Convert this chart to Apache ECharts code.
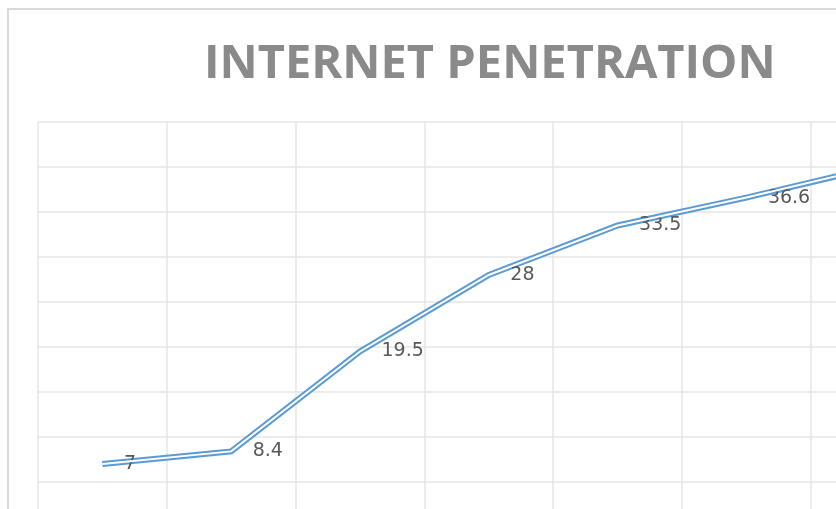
<!DOCTYPE html>
<html>
<head>
<meta charset="utf-8">
<script src="https://cdn.jsdelivr.net/npm/echarts@6/dist/echarts.min.js"></script>
<style>
  html, body { margin: 0; padding: 0; background: #fff; }
  #main { width: 836px; height: 509px; }
</style>
</head>
<body>
<div id="main"></div>
<script>
// categories are cut off below the visible area in the reference
var years = ['2010', '2011', '2012', '2013', '2014', '2015', '2016'];
var penetration = [7, 8.4, 19.5, 28, 33.5, 36.6, 40];
var yTicks = { min: 0, max: 45, step: 5 };

var myChart = echarts.init(document.getElementById('main'));

var option = {
    animation: false,
    backgroundColor: '#ffffff',
    title: {
        text: 'INTERNET PENETRATION',
        left: 199,
        top: 36,
        textStyle: {
            fontFamily: 'Open Sans',
            fontWeight: 'bold',
            fontSize: 47,
            color: '#8a8a8a'
        }
    },
    // chart area frame, only its top-left corner is visible
    graphic: [{
        type: 'rect',
        shape: { x: 8, y: 9, width: 1000, height: 700 },
        style: { fill: 'none', stroke: '#d9d9d9', lineWidth: 2 },
        silent: true
    }],
    // plot runs past the right and bottom edges of the picture
    grid: {
        left: 38,
        top: 122,
        width: 901.6,
        height: 405,
        containLabel: false,
        outerBoundsMode: 'none'
    },
    xAxis: {
        type: 'category',
        data: years,
        boundaryGap: true,
        axisLine: { show: true, lineStyle: { color: '#d9d9d9' } },
        axisTick: { show: false },
        axisLabel: { color: '#595959' },
        splitLine: { show: true, lineStyle: { color: '#e6e6e6', width: 1.5 } }
    },
    yAxis: {
        type: 'value',
        min: yTicks.min,
        max: yTicks.max,
        interval: yTicks.step,
        axisLine: { show: false },
        axisTick: { show: false },
        axisLabel: { show: false },
        splitLine: { lineStyle: { color: '#e6e6e6', width: 1.5 } }
    },
    series: [
        {
            // outer strokes of the double line
            type: 'line',
            data: penetration,
            symbol: 'circle',
            symbolSize: 1,
            showSymbol: true,
            itemStyle: { color: 'rgba(0,0,0,0)' },
            lineStyle: { color: '#5b9bd5', width: 6, join: 'miter' },
            label: {
                show: true,
                position: 'right',
                distance: 21,
                fontFamily: 'DejaVu Sans',
                fontSize: 19,
                color: '#595959'
            },
            z: 2
        },
        {
            // white core makes it a double line
            type: 'line',
            data: penetration,
            symbol: 'none',
            silent: true,
            lineStyle: { color: '#ffffff', width: 2, join: 'miter' },
            z: 3
        }
    ]
};
myChart.setOption(option);
</script>
</body>
</html>
